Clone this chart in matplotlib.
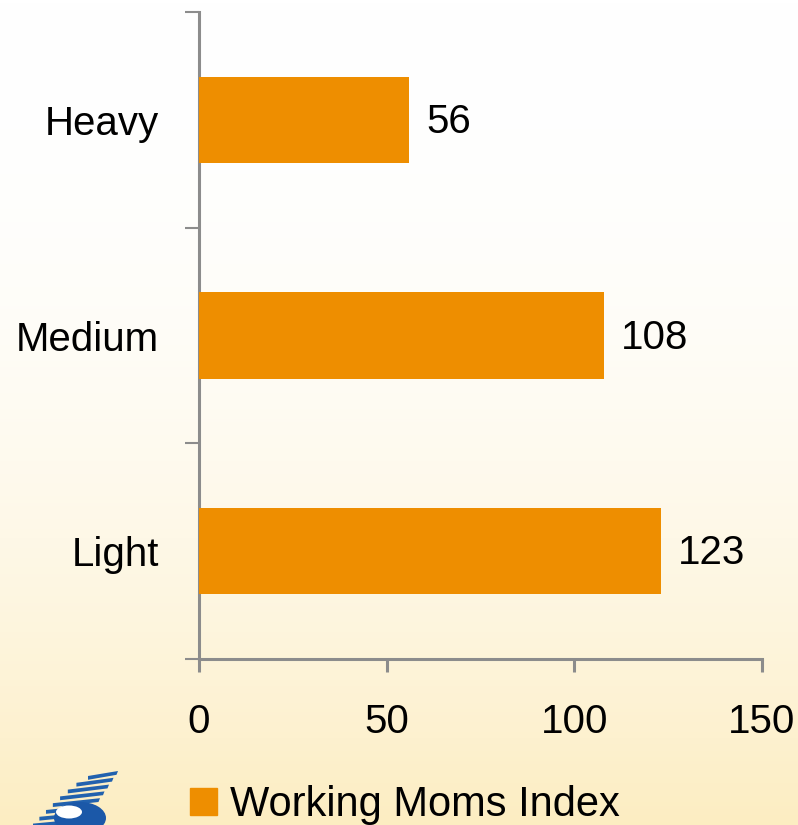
import numpy as np
from matplotlib import pyplot as plt
from matplotlib.patches import Polygon, Ellipse, Patch

categories = ['Light', 'Medium', 'Heavy']
values = [123, 108, 56]
x_ticks = [0, 50, 100, 150]
series_name = 'Working Moms Index'

bar_color = '#EE8E00'
axis_color = '#8C8C8C'

plt.rcParams['font.family'] = ['Liberation Sans', 'DejaVu Sans']

W, H = 798, 825
fig = plt.figure(figsize=(W / 100, H / 100), dpi=100)

# background in pixel coords (y down), white on top, cream at bottom
bg = fig.add_axes([0, 0, 1, 1], zorder=-10)
t = np.linspace(0, 1, 256) ** 2.2
top = np.array([1.0, 1.0, 1.0])
bot = np.array([0.99, 0.93, 0.76])
grad = top[None, :] * (1 - t[:, None]) + bot[None, :] * t[:, None]
bg.imshow(grad[:, None, :], aspect='auto', extent=[0, W, H, 0])
bg.set_xlim(0, W)
bg.set_ylim(H, 0)
bg.axis('off')

# rough logo bottom left: striped wing + loop
blue = '#2161AE'
for i in range(8):
    f = i / 7
    yr = 771 + i * 6.8
    xr = 118 - i * 4.5
    xl = 88 - 55 * f ** 0.8
    bg.add_patch(Polygon([[xl, yr + 5], [xr, yr], [xr - 1.5, yr + 3.8], [xl, yr + 8.8]],
                         closed=True, color=blue, lw=0))
bg.add_patch(Ellipse((80, 818), 52, 32, color='#1B58A8', lw=0))
bg.add_patch(Ellipse((69, 812), 26, 13, color='white', lw=0))

ax = fig.add_axes([0.2494, 0.2012, 0.7055, 0.7842])
ax.patch.set_alpha(0)
ypos = np.arange(len(categories))
ax.barh(ypos, values, height=0.4, color=bar_color, zorder=3)
for y, v in zip(ypos, values):
    ax.text(v + 4.5, y - 0.01, str(v), va='center', ha='left', fontsize=29)

ax.set_xlim(0, 150)
ax.set_ylim(-0.5, len(categories) - 0.5)
ax.set_xticks(x_ticks)
ax.set_xticklabels([str(x) for x in x_ticks], fontsize=29)
ax.set_yticks(ypos)
ax.set_yticklabels(categories, fontsize=29)
ax.set_yticks(np.arange(len(categories) + 1) - 0.5, minor=True)
ax.tick_params(axis='y', which='major', length=0, pad=29)
ax.tick_params(axis='y', which='minor', length=10, width=1.5, color=axis_color)
ax.tick_params(axis='x', length=9.5, width=2.2, color=axis_color, pad=22)

for s in ['top', 'right']:
    ax.spines[s].set_visible(False)
for s in ['left', 'bottom']:
    ax.spines[s].set_color(axis_color)
    ax.spines[s].set_linewidth(2.2)

fig.legend(handles=[Patch(color=bar_color, label=series_name)], loc='center left',
           bbox_to_anchor=(0.238, 0.024), frameon=False, fontsize=30,
           handlelength=0.65, handleheight=0.65, handletextpad=0.3, borderpad=0, borderaxespad=0)

fig.savefig('out.png', dpi=100)
